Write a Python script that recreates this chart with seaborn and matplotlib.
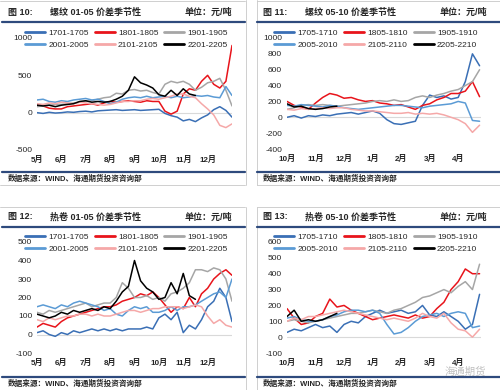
import numpy as np
import pandas as pd
import matplotlib
matplotlib.use("Agg")
import matplotlib.pyplot as plt
from matplotlib.lines import Line2D
import seaborn as sns

W, H = 500, 390

# x positions in months after the first axis label (5月 / 10月)
GRID_0105 = np.arange(0, 8.01, 0.25)
GRID_0510 = np.arange(0, 6.76, 0.25)

MONTHS_0105 = ["5月", "6月", "7月", "8月", "9月", "10月", "11月", "12月"]
MONTHS_0510 = ["10月", "11月", "12月", "1月", "2月", "3月", "4月"]

LABELS_0105 = ["1701-1705", "1801-1805", "1901-1905", "2001-2005", "2101-2105", "2201-2205"]
LABELS_0510 = ["1705-1710", "1805-1810", "1905-1910", "2005-2010", "2105-2110", "2205-2210"]
COLORS = ["#3A6FB5", "#E8141B", "#A6A6A6", "#5B9BD5", "#F5A8A8", "#000000"]

# 图10 螺纹 01-05
rebar_0105_17 = [0, -10, 5, -5, 0, 10, 5, 15, 20, 10, 25, 30, 35, 40, 30, 35, 40, 30, 35, 40,
                 45, -10, -40, -60, -110, -90, -120, -70, -30, 40, 80, 30, -60]
rebar_0105_18 = [100, 90, 60, 50, 50, 80, 90, 100, 110, 120, 100, 130, 150, 140, 150, 160, 150, 140, 160, 150,
                 150, 20, -20, 20, 250, 320, 300, 420, 500, 380, 330, 420, 900]
rebar_0105_19 = [80, 90, 100, 110, 110, 120, 130, 140, 150, 160, 180, 200, 210, 260, 250, 300, 310, 290, 300, 270,
                 250, 380, 420, 400, 420, 380, 300, 340, 400, 420, 460, 300, 90]
rebar_0105_20 = [170, 180, 150, 140, 160, 150, 170, 180, 190, 170, 180, 150, 120, 140, 180, 200, 210, 200, 220, 200,
                 210, 220, 200, 220, 200, 210, 230, 220, 230, 210, 200, 350, 230]
rebar_0105_21 = [120, 110, 130, 120, 140, 130, 120, 140, 130, 120, 110, 100, 110, 130, 150, 150, 160, 160, 180, 190,
                 180, 200, 220, 250, 250, 220, 200, 120, 50, -30, -170, -200, -150]
rebar_0105_22 = [100, 90, 100, 80, 100, 110, 120, 150, 160, 140, 150, 140, 150, 180, 220, 300, 480, 400, 370, 330,
                 240, 220, 300, 230, 320, 250, 230]

# 图11 螺纹 05-10
rebar_0510_17 = [0, 20, -10, 20, 10, 30, 20, 40, 50, 60, 40, 60, 80, 50, -30, -80, -90, -70, -50, 150,
                 280, 250, 270, 230, 250, 450, 800, 650]
rebar_0510_18 = [200, 150, 130, 100, 180, 250, 300, 280, 240, 250, 220, 200, 210, 180, 170, 150, 160, 130, 100, 150,
                 170, 220, 250, 300, 300, 330, 450, 260]
rebar_0510_19 = [100, 120, 150, 160, 150, 160, 150, 140, 150, 160, 170, 180, 200, 210, 200, 220, 200, 210, 250, 270,
                 250, 280, 300, 330, 350, 400, 450, 600]
rebar_0510_20 = [150, 140, 160, 150, 140, 130, 150, 140, 120, 110, 100, 110, 120, 130, 140, 150, 150, 140, 130, 120,
                 140, 150, 160, 170, 200, 180, -40, -50]
rebar_0510_21 = [100, 90, 110, 100, 110, 120, 110, 120, 120, 100, 90, 80, 80, 70, 60, 50, 50, 60, 40, 50,
                 40, 50, 30, 0, -30, -80, -190, -100]
rebar_0510_22 = [170, 130, 140, 110, 100, 110, 130, 140]

# 图12 热卷 01-05
coil_0105_17 = [10, 20, 0, -10, 10, 0, 20, 10, 20, 30, 20, 30, 20, 30, 20, 30, 30, 30, 40, 30,
                90, 110, 80, 120, 10, 50, 30, 80, 150, 180, 250, 200, 70]
coil_0105_18 = [40, 60, 50, 40, 70, 90, 100, 110, 120, 130, 140, 150, 150, 160, 180, 190, 200, 220, 210, 230,
                200, 160, 120, 150, 140, 200, 150, 220, 250, 300, 330, 350, 320]
coil_0105_19 = [120, 110, 130, 120, 130, 140, 150, 160, 170, 150, 160, 170, 170, 200, 280, 250, 200, 200, 210, 190,
                200, 180, 220, 230, 250, 280, 350, 350, 340, 360, 350, 300, 180]
coil_0105_20 = [150, 160, 150, 140, 160, 150, 170, 180, 170, 160, 150, 130, 140, 110, 100, 130, 150, 140, 150, 120,
                120, 130, 150, 130, 150, 150, 160, 180, 200, 220, 230, 200, 300]
coil_0105_21 = [80, 70, 90, 80, 90, 100, 100, 110, 110, 100, 110, 100, 100, 110, 120, 130, 130, 120, 130, 140,
                140, 150, 150, 150, 140, 150, 160, 150, 100, 60, 80, 50, 40]
coil_0105_22 = [110, 100, 90, 100, 120, 110, 130, 120, 130, 140, 130, 150, 140, 180, 230, 260, 400, 290, 250, 230,
                190, 200, 280, 220, 330, 210, 190]

# 图13 热卷 05-10
coil_0510_17 = [30, 50, 40, 60, 80, 60, 70, 30, 80, 100, 90, 130, 150, 170, 150, 160, 170, 150, 160, 200,
                140, 130, 160, 130, 100, 50, 80, 270]
coil_0510_18 = [180, 120, 80, 90, 130, 150, 240, 190, 200, 170, 150, 130, 110, 120, 130, 140, 130, 120, 140, 120,
                130, 180, 220, 300, 350, 430, 400, 400]
coil_0510_19 = [100, 110, 100, 90, 100, 110, 120, 130, 140, 150, 150, 160, 170, 160, 150, 170, 180, 200, 220, 250,
                260, 280, 300, 280, 320, 350, 300, 460]
coil_0510_20 = [120, 130, 110, 100, 100, 110, 130, 140, 160, 170, 170, 160, 170, 150, 80, 20, 30, 60, 100, 130,
                140, 150, 130, 150, 160, 150, 60, 70]
coil_0510_21 = [100, 120, 110, 130, 130, 140, 150, 160, 170, 160, 150, 140, 130, 120, 110, 120, 110, 100, 120, 150,
                130, 120, 150, 90, 50, 40, 0, 50]
coil_0510_22 = [130, 170, 100, 110, 100, 110, 130, 150]


def fx(px):
    return px / W


def fy(py):
    return 1 - py / H


def hline(fig, x0, x1, y, color, lw):
    fig.add_artist(Line2D([fx(x0), fx(x1)], [fy(y), fy(y)], color=color, lw=lw, transform=fig.transFigure))


def vline(fig, x, y0, y1, color, lw):
    fig.add_artist(Line2D([fx(x), fx(x)], [fy(y0), fy(y1)], color=color, lw=lw, transform=fig.transFigure))


def draw_panel(fig, cell, plot_box, grid, labels, series, months, xmax, ylim, ystep, number, title):
    cx0, cx1, cy0 = cell
    navy = "#2E4A7D"
    # header and footer of the table cell
    hline(fig, cx0, cx1, cy0 + 21, navy, 1.6)
    hline(fig, cx0, cx1, cy0 + 171, navy, 1.6)
    fig.text(fx(cx0 + 6), fy(cy0 + 11), f"图 {number}:", fontsize=6.5, fontweight="bold", va="center")
    fig.text(fx(cx0 + 48), fy(cy0 + 11), title, fontsize=6.5, fontweight="bold", va="center")
    fig.text(fx(cx0 + 230), fy(cy0 + 11), "单位：元/吨", fontsize=6.5, fontweight="bold", va="center", ha="right")
    fig.text(fx(cx0 + 6), fy(cy0 + 178), "数据来源：WIND、海通期货投资咨询部", fontsize=5.5,
             fontweight="bold", va="center")

    left, right, top, bottom = plot_box
    ax = fig.add_axes([fx(left), fy(bottom), (right - left) / W, (bottom - top) / H])
    rows = []
    for label, values in zip(labels, series):
        for x, v in zip(grid[:len(values)], values):
            rows.append({"x": x, "y": v, "series": label})
    df = pd.DataFrame(rows)
    ax.axhline(0, color="#D9D9D9", lw=0.8, zorder=0)
    sns.lineplot(data=df, x="x", y="y", hue="series", hue_order=labels,
                 palette=dict(zip(labels, COLORS)), estimator=None, sort=False,
                 linewidth=1.1, legend=False, ax=ax)
    ax.set_xlim(0, xmax)
    ax.set_ylim(*ylim)
    ax.set_yticks(np.arange(ylim[0], ylim[1] + 1, ystep))
    ax.set_xticks(range(len(months)))
    ax.set_xticklabels(months, fontsize=5.8, fontweight="bold")
    ax.tick_params(axis="y", labelsize=6, length=0, pad=3.5)
    ax.tick_params(axis="x", length=0, pad=4.5)
    ax.set_xlabel("")
    ax.set_ylabel("")
    for spine in ax.spines.values():
        spine.set_visible(False)
    ax.set_facecolor("none")

    handles = [Line2D([], [], color=c, lw=2.0) for c in COLORS]
    order = [0, 3, 1, 4, 2, 5]
    fig.legend([handles[i] for i in order], [labels[i] for i in order],
               loc="center", bbox_to_anchor=(fx((left + right) / 2 - 8), fy(top + 1)),
               ncol=3, fontsize=6, frameon=False, handlelength=2.4, handletextpad=0.4,
               columnspacing=0.7, labelspacing=0.45, borderpad=0)
    return ax


def main():
    sns.set_theme(style="white")
    plt.rcParams["font.family"] = ["Liberation Sans", "Noto Sans CJK SC", "DejaVu Sans"]
    plt.rcParams["axes.unicode_minus"] = False

    fig = plt.figure(figsize=(W / 100, H / 100), dpi=100)
    fig.patch.set_facecolor("white")

    grey = "#C8C8C8"
    hline(fig, 0, 245, 1, grey, 0.6)
    hline(fig, 257, 500, 1, grey, 0.6)
    hline(fig, 0, 245, 185, grey, 0.6)
    hline(fig, 257, 500, 185, grey, 0.6)
    hline(fig, 0, 245, 207, grey, 0.6)
    hline(fig, 257, 500, 207, grey, 0.6)
    for x in (245.5, 256.5):
        vline(fig, x, 0, 185, grey, 0.6)
        vline(fig, x, 207, 390, grey, 0.6)

    draw_panel(fig, (2, 245, 1), (37, 232, 38, 150), GRID_0105, LABELS_0105,
               [rebar_0105_17, rebar_0105_18, rebar_0105_19, rebar_0105_20, rebar_0105_21, rebar_0105_22],
               MONTHS_0105, 8, (-500, 1000), 500, 10, "螺纹 01-05 价差季节性")
    draw_panel(fig, (257, 500, 1), (287, 481, 38, 149), GRID_0510, LABELS_0510,
               [rebar_0510_17, rebar_0510_18, rebar_0510_19, rebar_0510_20, rebar_0510_21, rebar_0510_22],
               MONTHS_0510, 6.8, (-400, 1000), 200, 11, "螺纹 05-10 价差季节性")
    draw_panel(fig, (2, 245, 206), (37, 232, 242, 353), GRID_0105, LABELS_0105,
               [coil_0105_17, coil_0105_18, coil_0105_19, coil_0105_20, coil_0105_21, coil_0105_22],
               MONTHS_0105, 8, (-100, 500), 100, 12, "热卷 01-05 价差季节性")
    draw_panel(fig, (257, 500, 206), (287, 481, 242, 353), GRID_0510, LABELS_0510,
               [coil_0510_17, coil_0510_18, coil_0510_19, coil_0510_20, coil_0510_21, coil_0510_22],
               MONTHS_0510, 6.8, (-100, 600), 100, 13, "热卷 05-10 价差季节性")

    # faint watermark, kept just under the month labels
    fig.text(fx(445), fy(371.5), "海通期货", fontsize=7.5, color="#8C8C8C", alpha=0.55, va="center")

    fig.savefig("out.png", dpi=100)
    plt.close(fig)


if __name__ == "__main__":
    main()
